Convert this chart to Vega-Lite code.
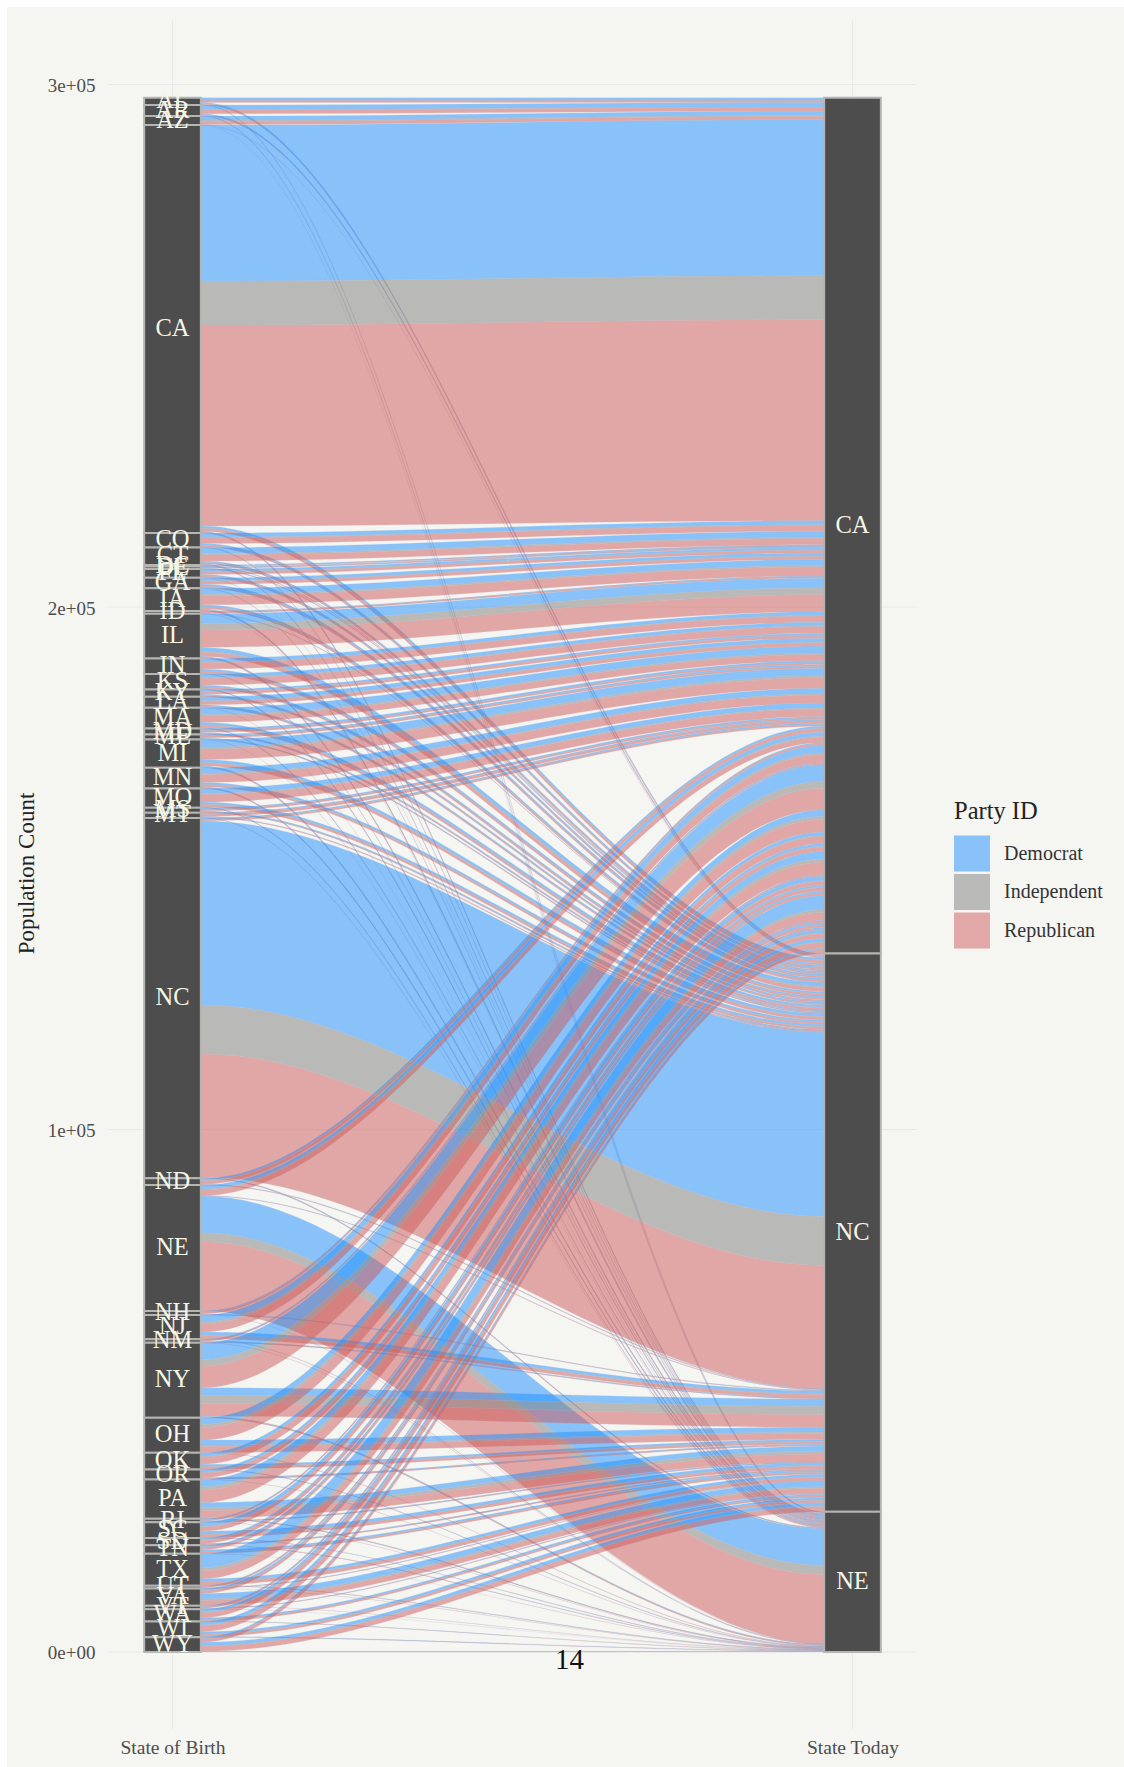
{"$schema":"https://vega.github.io/schema/vega-lite/v6.json","width":1117,"height":1760,"autosize":{"type":"none"},"padding":{"left":7,"top":7,"right":0,"bottom":0},"background":"#ffffff","view":{"fill":"#f5f5f2","stroke":null},"config":{"font":"Liberation Serif"},
"datasets":{"flows":[
{"s":"AL","d":"CA","p":"D","v":500},{"s":"AL","d":"CA","p":"I","v":40},{"s":"AL","d":"CA","p":"R","v":360},{"s":"AL","d":"NC","p":"D","v":190},{"s":"AL","d":"NC","p":"R","v":230},{"s":"AL","d":"NE","p":"D","v":20},{"s":"AL","d":"NE","p":"R","v":60},
{"s":"AR","d":"CA","p":"D","v":860},{"s":"AR","d":"CA","p":"I","v":80},{"s":"AR","d":"CA","p":"R","v":730},{"s":"AR","d":"NC","p":"D","v":150},{"s":"AR","d":"NC","p":"R","v":190},{"s":"AR","d":"NE","p":"D","v":40},{"s":"AR","d":"NE","p":"R","v":60},
{"s":"AZ","d":"CA","p":"D","v":820},{"s":"AZ","d":"CA","p":"I","v":190},{"s":"AZ","d":"CA","p":"R","v":630},{"s":"AZ","d":"NC","p":"R","v":60},{"s":"AZ","d":"NE","p":"D","v":20},
{"s":"CA","d":"CA","p":"D","v":29860},{"s":"CA","d":"CA","p":"I","v":8420},{"s":"CA","d":"CA","p":"R","v":38470},{"s":"CA","d":"NC","p":"D","v":420},{"s":"CA","d":"NC","p":"I","v":100},{"s":"CA","d":"NC","p":"R","v":540},{"s":"CA","d":"NE","p":"D","v":100},{"s":"CA","d":"NE","p":"I","v":20},{"s":"CA","d":"NE","p":"R","v":170},
{"s":"CO","d":"CA","p":"D","v":770},{"s":"CO","d":"CA","p":"I","v":150},{"s":"CO","d":"CA","p":"R","v":1090},{"s":"CO","d":"NC","p":"D","v":290},{"s":"CO","d":"NC","p":"I","v":60},{"s":"CO","d":"NC","p":"R","v":290},{"s":"CO","d":"NE","p":"D","v":40},{"s":"CO","d":"NE","p":"R","v":60},
{"s":"CT","d":"CA","p":"D","v":1150},{"s":"CT","d":"CA","p":"I","v":250},{"s":"CT","d":"CA","p":"R","v":1190},{"s":"CT","d":"NC","p":"D","v":250},{"s":"CT","d":"NC","p":"I","v":60},{"s":"CT","d":"NC","p":"R","v":270},{"s":"CT","d":"NE","p":"D","v":60},{"s":"CT","d":"NE","p":"R","v":100},
{"s":"DC","d":"CA","p":"D","v":130},{"s":"DC","d":"CA","p":"I","v":20},{"s":"DC","d":"CA","p":"R","v":80},{"s":"DC","d":"NC","p":"D","v":60},{"s":"DC","d":"NC","p":"R","v":40},
{"s":"DE","d":"CA","p":"D","v":130},{"s":"DE","d":"CA","p":"I","v":20},{"s":"DE","d":"CA","p":"R","v":130},{"s":"DE","d":"NC","p":"D","v":80},{"s":"DE","d":"NC","p":"R","v":80},
{"s":"FL","d":"CA","p":"D","v":440},{"s":"FL","d":"CA","p":"I","v":100},{"s":"FL","d":"CA","p":"R","v":520},{"s":"FL","d":"NC","p":"D","v":250},{"s":"FL","d":"NC","p":"I","v":60},{"s":"FL","d":"NC","p":"R","v":270},{"s":"FL","d":"NE","p":"R","v":40},
{"s":"GA","d":"CA","p":"D","v":570},{"s":"GA","d":"CA","p":"I","v":100},{"s":"GA","d":"CA","p":"R","v":570},{"s":"GA","d":"NC","p":"D","v":340},{"s":"GA","d":"NC","p":"I","v":60},{"s":"GA","d":"NC","p":"R","v":340},{"s":"GA","d":"NE","p":"D","v":20},{"s":"GA","d":"NE","p":"R","v":40},
{"s":"IA","d":"CA","p":"D","v":1150},{"s":"IA","d":"CA","p":"I","v":290},{"s":"IA","d":"CA","p":"R","v":1720},{"s":"IA","d":"NC","p":"D","v":330},{"s":"IA","d":"NC","p":"I","v":60},{"s":"IA","d":"NC","p":"R","v":380},{"s":"IA","d":"NE","p":"D","v":150},{"s":"IA","d":"NE","p":"I","v":40},{"s":"IA","d":"NE","p":"R","v":210},
{"s":"ID","d":"CA","p":"D","v":130},{"s":"ID","d":"CA","p":"I","v":40},{"s":"ID","d":"CA","p":"R","v":250},{"s":"ID","d":"NC","p":"D","v":20},{"s":"ID","d":"NC","p":"R","v":60},{"s":"ID","d":"NE","p":"R","v":20},
{"s":"IL","d":"CA","p":"D","v":1860},{"s":"IL","d":"CA","p":"I","v":1280},{"s":"IL","d":"CA","p":"R","v":3310},{"s":"IL","d":"NC","p":"D","v":770},{"s":"IL","d":"NC","p":"I","v":190},{"s":"IL","d":"NC","p":"R","v":770},{"s":"IL","d":"NE","p":"D","v":150},{"s":"IL","d":"NE","p":"I","v":40},{"s":"IL","d":"NE","p":"R","v":190},
{"s":"IN","d":"CA","p":"D","v":670},{"s":"IN","d":"CA","p":"I","v":130},{"s":"IN","d":"CA","p":"R","v":1210},{"s":"IN","d":"NC","p":"D","v":380},{"s":"IN","d":"NC","p":"I","v":80},{"s":"IN","d":"NC","p":"R","v":420},{"s":"IN","d":"NE","p":"D","v":40},{"s":"IN","d":"NE","p":"R","v":60},
{"s":"KS","d":"CA","p":"D","v":670},{"s":"KS","d":"CA","p":"I","v":150},{"s":"KS","d":"CA","p":"R","v":1280},{"s":"KS","d":"NC","p":"D","v":270},{"s":"KS","d":"NC","p":"I","v":60},{"s":"KS","d":"NC","p":"R","v":340},{"s":"KS","d":"NE","p":"D","v":60},{"s":"KS","d":"NE","p":"I","v":20},{"s":"KS","d":"NE","p":"R","v":100},
{"s":"KY","d":"CA","p":"D","v":340},{"s":"KY","d":"CA","p":"I","v":80},{"s":"KY","d":"CA","p":"R","v":500},{"s":"KY","d":"NC","p":"D","v":210},{"s":"KY","d":"NC","p":"I","v":40},{"s":"KY","d":"NC","p":"R","v":230},
{"s":"LA","d":"CA","p":"D","v":770},{"s":"LA","d":"CA","p":"I","v":110},{"s":"LA","d":"CA","p":"R","v":650},{"s":"LA","d":"NC","p":"D","v":250},{"s":"LA","d":"NC","p":"I","v":40},{"s":"LA","d":"NC","p":"R","v":250},{"s":"LA","d":"NE","p":"R","v":40},
{"s":"MA","d":"CA","p":"D","v":1300},{"s":"MA","d":"CA","p":"I","v":290},{"s":"MA","d":"CA","p":"R","v":1190},{"s":"MA","d":"NC","p":"D","v":460},{"s":"MA","d":"NC","p":"I","v":110},{"s":"MA","d":"NC","p":"R","v":440},{"s":"MA","d":"NE","p":"D","v":80},{"s":"MA","d":"NE","p":"R","v":100},
{"s":"MD","d":"CA","p":"D","v":380},{"s":"MD","d":"CA","p":"I","v":60},{"s":"MD","d":"CA","p":"R","v":330},{"s":"MD","d":"NC","p":"D","v":190},{"s":"MD","d":"NC","p":"I","v":20},{"s":"MD","d":"NC","p":"R","v":170},
{"s":"ME","d":"CA","p":"D","v":290},{"s":"ME","d":"CA","p":"I","v":60},{"s":"ME","d":"CA","p":"R","v":330},{"s":"ME","d":"NC","p":"D","v":110},{"s":"ME","d":"NC","p":"I","v":20},{"s":"ME","d":"NC","p":"R","v":110},{"s":"ME","d":"NE","p":"R","v":40},
{"s":"MI","d":"CA","p":"D","v":1450},{"s":"MI","d":"CA","p":"I","v":380},{"s":"MI","d":"CA","p":"R","v":1990},{"s":"MI","d":"NC","p":"D","v":570},{"s":"MI","d":"NC","p":"I","v":110},{"s":"MI","d":"NC","p":"R","v":560},{"s":"MI","d":"NE","p":"D","v":130},{"s":"MI","d":"NE","p":"I","v":40},{"s":"MI","d":"NE","p":"R","v":170},
{"s":"MN","d":"CA","p":"D","v":1050},{"s":"MN","d":"CA","p":"I","v":250},{"s":"MN","d":"CA","p":"R","v":1530},{"s":"MN","d":"NC","p":"D","v":380},{"s":"MN","d":"NC","p":"I","v":80},{"s":"MN","d":"NC","p":"R","v":400},{"s":"MN","d":"NE","p":"D","v":100},{"s":"MN","d":"NE","p":"I","v":20},{"s":"MN","d":"NE","p":"R","v":150},
{"s":"MO","d":"CA","p":"D","v":960},{"s":"MO","d":"CA","p":"I","v":190},{"s":"MO","d":"CA","p":"R","v":1440},{"s":"MO","d":"NC","p":"D","v":420},{"s":"MO","d":"NC","p":"I","v":80},{"s":"MO","d":"NC","p":"R","v":460},{"s":"MO","d":"NE","p":"D","v":60},{"s":"MO","d":"NE","p":"R","v":100},
{"s":"MS","d":"CA","p":"D","v":250},{"s":"MS","d":"CA","p":"I","v":40},{"s":"MS","d":"CA","p":"R","v":290},{"s":"MS","d":"NC","p":"D","v":190},{"s":"MS","d":"NC","p":"I","v":20},{"s":"MS","d":"NC","p":"R","v":170},
{"s":"MT","d":"CA","p":"D","v":190},{"s":"MT","d":"CA","p":"I","v":60},{"s":"MT","d":"CA","p":"R","v":460},{"s":"MT","d":"NC","p":"D","v":80},{"s":"MT","d":"NC","p":"R","v":110},{"s":"MT","d":"NE","p":"R","v":60},
{"s":"NC","d":"CA","p":"D","v":230},{"s":"NC","d":"CA","p":"I","v":60},{"s":"NC","d":"CA","p":"R","v":290},{"s":"NC","d":"NC","p":"D","v":35220},{"s":"NC","d":"NC","p":"I","v":9380},{"s":"NC","d":"NC","p":"R","v":23600},{"s":"NC","d":"NE","p":"D","v":80},{"s":"NC","d":"NE","p":"I","v":20},{"s":"NC","d":"NE","p":"R","v":100},
{"s":"ND","d":"CA","p":"D","v":380},{"s":"ND","d":"CA","p":"I","v":100},{"s":"ND","d":"CA","p":"R","v":670},{"s":"ND","d":"NC","p":"D","v":60},{"s":"ND","d":"NC","p":"R","v":80},
{"s":"NE","d":"CA","p":"D","v":770},{"s":"NE","d":"CA","p":"I","v":190},{"s":"NE","d":"CA","p":"R","v":1050},{"s":"NE","d":"NC","p":"D","v":40},{"s":"NE","d":"NC","p":"R","v":60},{"s":"NE","d":"NE","p":"D","v":7020},{"s":"NE","d":"NE","p":"I","v":1720},{"s":"NE","d":"NE","p":"R","v":13260},
{"s":"NH","d":"CA","p":"D","v":190},{"s":"NH","d":"CA","p":"I","v":60},{"s":"NH","d":"CA","p":"R","v":330},{"s":"NH","d":"NC","p":"D","v":80},{"s":"NH","d":"NC","p":"R","v":80},{"s":"NH","d":"NE","p":"R","v":40},
{"s":"NJ","d":"CA","p":"D","v":1340},{"s":"NJ","d":"CA","p":"I","v":380},{"s":"NJ","d":"CA","p":"R","v":1530},{"s":"NJ","d":"NC","p":"D","v":570},{"s":"NJ","d":"NC","p":"I","v":130},{"s":"NJ","d":"NC","p":"R","v":630},{"s":"NJ","d":"NE","p":"D","v":20},{"s":"NJ","d":"NE","p":"R","v":40},
{"s":"NM","d":"CA","p":"D","v":150},{"s":"NM","d":"CA","p":"I","v":40},{"s":"NM","d":"CA","p":"R","v":190},{"s":"NM","d":"NC","p":"D","v":100},{"s":"NM","d":"NC","p":"I","v":20},{"s":"NM","d":"NC","p":"R","v":110},{"s":"NM","d":"NE","p":"R","v":40},
{"s":"NY","d":"CA","p":"D","v":3200},{"s":"NY","d":"CA","p":"I","v":1280},{"s":"NY","d":"CA","p":"R","v":4150},{"s":"NY","d":"NC","p":"D","v":1400},{"s":"NY","d":"NC","p":"I","v":1590},{"s":"NY","d":"NC","p":"R","v":2430},{"s":"NY","d":"NE","p":"D","v":110},{"s":"NY","d":"NE","p":"I","v":40},{"s":"NY","d":"NE","p":"R","v":170},
{"s":"OH","d":"CA","p":"D","v":1280},{"s":"OH","d":"CA","p":"I","v":570},{"s":"OH","d":"CA","p":"R","v":2410},{"s":"OH","d":"NC","p":"D","v":960},{"s":"OH","d":"NC","p":"I","v":250},{"s":"OH","d":"NC","p":"R","v":1150},{"s":"OH","d":"NE","p":"R","v":80},
{"s":"OK","d":"CA","p":"D","v":670},{"s":"OK","d":"CA","p":"I","v":190},{"s":"OK","d":"CA","p":"R","v":1340},{"s":"OK","d":"NC","p":"D","v":380},{"s":"OK","d":"NC","p":"I","v":80},{"s":"OK","d":"NC","p":"R","v":440},{"s":"OK","d":"NE","p":"D","v":40},{"s":"OK","d":"NE","p":"R","v":60},
{"s":"OR","d":"CA","p":"D","v":540},{"s":"OR","d":"CA","p":"I","v":150},{"s":"OR","d":"CA","p":"R","v":840},{"s":"OR","d":"NC","p":"D","v":150},{"s":"OR","d":"NC","p":"I","v":40},{"s":"OR","d":"NC","p":"R","v":150},{"s":"OR","d":"NE","p":"R","v":40},
{"s":"PA","d":"CA","p":"D","v":1400},{"s":"PA","d":"CA","p":"I","v":630},{"s":"PA","d":"CA","p":"R","v":2370},{"s":"PA","d":"NC","p":"D","v":960},{"s":"PA","d":"NC","p":"I","v":570},{"s":"PA","d":"NC","p":"R","v":1440},{"s":"PA","d":"NE","p":"D","v":60},{"s":"PA","d":"NE","p":"I","v":20},{"s":"PA","d":"NE","p":"R","v":80},
{"s":"RI","d":"CA","p":"D","v":150},{"s":"RI","d":"CA","p":"I","v":40},{"s":"RI","d":"CA","p":"R","v":190},{"s":"RI","d":"NC","p":"D","v":100},{"s":"RI","d":"NC","p":"I","v":20},{"s":"RI","d":"NC","p":"R","v":110},{"s":"RI","d":"NE","p":"R","v":40},
{"s":"SC","d":"CA","p":"D","v":770},{"s":"SC","d":"CA","p":"I","v":150},{"s":"SC","d":"CA","p":"R","v":800},{"s":"SC","d":"NC","p":"D","v":570},{"s":"SC","d":"NC","p":"I","v":80},{"s":"SC","d":"NC","p":"R","v":540},{"s":"SC","d":"NE","p":"D","v":40},{"s":"SC","d":"NE","p":"R","v":40},
{"s":"SD","d":"CA","p":"D","v":330},{"s":"SD","d":"CA","p":"I","v":100},{"s":"SD","d":"CA","p":"R","v":630},{"s":"SD","d":"NC","p":"D","v":110},{"s":"SD","d":"NC","p":"I","v":20},{"s":"SD","d":"NC","p":"R","v":150},{"s":"SD","d":"NE","p":"D","v":20},{"s":"SD","d":"NE","p":"R","v":60},
{"s":"TN","d":"CA","p":"D","v":340},{"s":"TN","d":"CA","p":"I","v":80},{"s":"TN","d":"CA","p":"R","v":440},{"s":"TN","d":"NC","p":"D","v":310},{"s":"TN","d":"NC","p":"I","v":60},{"s":"TN","d":"NC","p":"R","v":330},{"s":"TN","d":"NE","p":"R","v":40},
{"s":"TX","d":"CA","p":"D","v":2680},{"s":"TX","d":"CA","p":"I","v":570},{"s":"TX","d":"CA","p":"R","v":1530},{"s":"TX","d":"NC","p":"D","v":540},{"s":"TX","d":"NC","p":"I","v":100},{"s":"TX","d":"NC","p":"R","v":610},{"s":"TX","d":"NE","p":"D","v":40},{"s":"TX","d":"NE","p":"R","v":60},
{"s":"UT","d":"CA","p":"D","v":100},{"s":"UT","d":"CA","p":"I","v":40},{"s":"UT","d":"CA","p":"R","v":250},{"s":"UT","d":"NC","p":"D","v":40},{"s":"UT","d":"NC","p":"R","v":80},{"s":"UT","d":"NE","p":"R","v":20},
{"s":"VA","d":"CA","p":"D","v":380},{"s":"VA","d":"CA","p":"I","v":80},{"s":"VA","d":"CA","p":"R","v":500},{"s":"VA","d":"NC","p":"D","v":1050},{"s":"VA","d":"NC","p":"I","v":290},{"s":"VA","d":"NC","p":"R","v":960},{"s":"VA","d":"NE","p":"R","v":60},
{"s":"VT","d":"CA","p":"D","v":190},{"s":"VT","d":"CA","p":"I","v":40},{"s":"VT","d":"CA","p":"R","v":230},{"s":"VT","d":"NC","p":"D","v":80},{"s":"VT","d":"NC","p":"R","v":80},{"s":"VT","d":"NE","p":"D","v":20},
{"s":"WA","d":"CA","p":"D","v":570},{"s":"WA","d":"CA","p":"I","v":130},{"s":"WA","d":"CA","p":"R","v":920},{"s":"WA","d":"NC","p":"D","v":310},{"s":"WA","d":"NC","p":"I","v":60},{"s":"WA","d":"NC","p":"R","v":310},{"s":"WA","d":"NE","p":"D","v":40},{"s":"WA","d":"NE","p":"R","v":40},
{"s":"WI","d":"CA","p":"D","v":670},{"s":"WI","d":"CA","p":"I","v":150},{"s":"WI","d":"CA","p":"R","v":1090},{"s":"WI","d":"NC","p":"D","v":460},{"s":"WI","d":"NC","p":"I","v":60},{"s":"WI","d":"NC","p":"R","v":440},{"s":"WI","d":"NE","p":"D","v":60},{"s":"WI","d":"NE","p":"R","v":60},
{"s":"WY","d":"CA","p":"D","v":290},{"s":"WY","d":"CA","p":"I","v":60},{"s":"WY","d":"CA","p":"R","v":610},{"s":"WY","d":"NC","p":"D","v":670},{"s":"WY","d":"NC","p":"I","v":100},{"s":"WY","d":"NC","p":"R","v":960},{"s":"WY","d":"NE","p":"D","v":60},{"s":"WY","d":"NE","p":"R","v":80}
]},
"layer":[
{"data":{"values":[{"t":0},{"t":100000},{"t":200000},{"t":300000}]},"mark":{"type":"rule","color":"#e9e9e5","strokeWidth":1},"encoding":{
"x":{"datum":0.9048,"type":"quantitative","scale":{"domain":[0.75662,2.39926],"nice":false,"zero":false},"axis":{"values":[1,2],"labelExpr":"datum.value==1?'State of Birth':'State Today'","grid":false,"domain":false,"ticks":false,"title":null,"offset":-29,"labelPadding":0,"labelFontSize":19.5,"labelColor":"#4d4d4d","labelBaseline":"top","labelFlush":false}},"x2":{"datum":2.094},
"y":{"field":"t","type":"quantitative","scale":{"domain":[-22010,314833],"nice":false,"zero":false},"axis":{"values":[0,100000,200000,300000],"labelExpr":"datum.value==0?'0e+00':(datum.value/100000)+'e+05'","grid":false,"domain":false,"ticks":false,"title":"Population Count","titleFontSize":23,"titleFontWeight":"normal","titleColor":"#222222","titleX":-57,"titleY":866,"offset":-88,"labelPadding":0,"labelOffset":1,"labelFontSize":19,"labelColor":"#4d4d4d"}}}},
{"data":{"values":[{"u":1},{"u":2}]},"mark":{"type":"rule","color":"#e9e9e5","strokeWidth":1},"encoding":{
"x":{"field":"u","type":"quantitative","scale":{"domain":[0.75662,2.39926],"nice":false,"zero":false}},
"y":{"datum":312500,"type":"quantitative","scale":{"domain":[-22010,314833],"nice":false,"zero":false}},"y2":{"datum":-14740}}},
{"data":{"name":"flows"},"transform":[
{"stack":"v","groupby":[],"sort":[{"field":"s","order":"descending"},{"field":"d","order":"descending"},{"field":"p","order":"descending"}],"as":["b1","t1"]},
{"stack":"v","groupby":[],"sort":[{"field":"s","order":"descending"},{"field":"d","order":"descending"},{"field":"p","order":"descending"}],"as":["b2","t2"]},
{"stack":"v","groupby":[],"sort":[{"field":"d","order":"descending"},{"field":"s","order":"descending"},{"field":"p","order":"descending"}],"as":["b3","t3"]},
{"stack":"v","groupby":[],"sort":[{"field":"d","order":"descending"},{"field":"s","order":"descending"},{"field":"p","order":"descending"}],"as":["b4","t4"]},
{"fold":["t1","t2","t3","t4"],"as":["k","y"]},
{"fold":["b1","b2","b3","b4"],"as":["K","y0"]},
{"filter":"slice(datum.k,1)==slice(datum.K,1)"},
{"lookup":"k","from":{"data":{"values":[{"k":"t1","x":1.0417},{"k":"t2","x":1.0427},{"k":"t3","x":1.9573},{"k":"t4","x":1.9583}]},"key":"k","fields":["x"]}}],
"mark":{"type":"area","interpolate":"monotone","opacity":0.5,"stroke":"#a8a8c0","strokeWidth":0.2},"encoding":{
"x":{"field":"x","type":"quantitative","scale":{"domain":[0.75662,2.39926],"nice":false,"zero":false}},
"y":{"field":"y","type":"quantitative","stack":null,"scale":{"domain":[-22010,314833],"nice":false,"zero":false}},"y2":{"field":"y0"},
"detail":[{"field":"s"},{"field":"d"}],
"color":{"field":"p","type":"nominal","scale":{"domain":["D","I","R"],"range":["#1e90ff","#7f7f7f","#cd5c5c"]},"legend":{"title":"Party ID","orient":"none","legendX":947,"legendY":793,"labelExpr":"{'D':'Democrat','I':'Independent','R':'Republican'}[datum.label]","titleFontSize":24.5,"titleFontWeight":"normal","titleColor":"#222222","titlePadding":11,"labelFontSize":20,"labelColor":"#333333","labelOffset":14,"symbolType":"square","symbolSize":1296,"symbolOpacity":0.5,"symbolStrokeWidth":0,"rowPadding":2.5,"labelLimit":200}}}},
{"data":{"name":"flows"},"transform":[{"aggregate":[{"op":"sum","field":"v","as":"n"}],"groupby":["s"]},{"stack":"n","groupby":[],"sort":[{"field":"s","order":"descending"}],"as":["b","t"]}],
"mark":{"type":"rect","fill":"#4d4d4d","stroke":"#b5b5b2","strokeWidth":2},"encoding":{
"x":{"datum":0.9583,"type":"quantitative","scale":{"domain":[0.75662,2.39926],"nice":false,"zero":false}},"x2":{"datum":1.0417},
"y":{"field":"t","type":"quantitative","scale":{"domain":[-22010,314833],"nice":false,"zero":false}},"y2":{"field":"b"}}},
{"data":{"name":"flows"},"transform":[{"aggregate":[{"op":"sum","field":"v","as":"n"}],"groupby":["d"]},{"stack":"n","groupby":[],"sort":[{"field":"d","order":"descending"}],"as":["b","t"]}],
"mark":{"type":"rect","fill":"#4d4d4d","stroke":"#b5b5b2","strokeWidth":2},"encoding":{
"x":{"datum":1.9583,"type":"quantitative","scale":{"domain":[0.75662,2.39926],"nice":false,"zero":false}},"x2":{"datum":2.0417},
"y":{"field":"t","type":"quantitative","scale":{"domain":[-22010,314833],"nice":false,"zero":false}},"y2":{"field":"b"}}},
{"data":{"name":"flows"},"transform":[{"aggregate":[{"op":"sum","field":"v","as":"n"}],"groupby":["s"]},{"stack":"n","groupby":[],"sort":[{"field":"s","order":"descending"}],"as":["b","t"]},{"fold":["b","t"],"as":["e","w"]},{"aggregate":[{"op":"mean","field":"w","as":"m"}],"groupby":["s"]}],
"mark":{"type":"text","color":"#f6f6e6","fontSize":24.5,"baseline":"middle","align":"center"},"encoding":{
"x":{"datum":1,"type":"quantitative","scale":{"domain":[0.75662,2.39926],"nice":false,"zero":false}},
"y":{"field":"m","type":"quantitative","scale":{"domain":[-22010,314833],"nice":false,"zero":false}},"text":{"field":"s"}}},
{"data":{"name":"flows"},"transform":[{"aggregate":[{"op":"sum","field":"v","as":"n"}],"groupby":["d"]},{"stack":"n","groupby":[],"sort":[{"field":"d","order":"descending"}],"as":["b","t"]},{"fold":["b","t"],"as":["e","w"]},{"aggregate":[{"op":"mean","field":"w","as":"m"}],"groupby":["d"]}],
"mark":{"type":"text","color":"#f6f6e6","fontSize":24.5,"baseline":"middle","align":"center"},"encoding":{
"x":{"datum":2,"type":"quantitative","scale":{"domain":[0.75662,2.39926],"nice":false,"zero":false}},
"y":{"field":"m","type":"quantitative","scale":{"domain":[-22010,314833],"nice":false,"zero":false}},"text":{"field":"d"}}},
{"data":{"values":[{"n":"14"}]},"mark":{"type":"text","color":"#111111","fontSize":29,"baseline":"middle","align":"center"},"encoding":{
"x":{"datum":1.584,"type":"quantitative","scale":{"domain":[0.75662,2.39926],"nice":false,"zero":false}},
"y":{"datum":-1530,"type":"quantitative","scale":{"domain":[-22010,314833],"nice":false,"zero":false}},"text":{"field":"n"}}}
]}
